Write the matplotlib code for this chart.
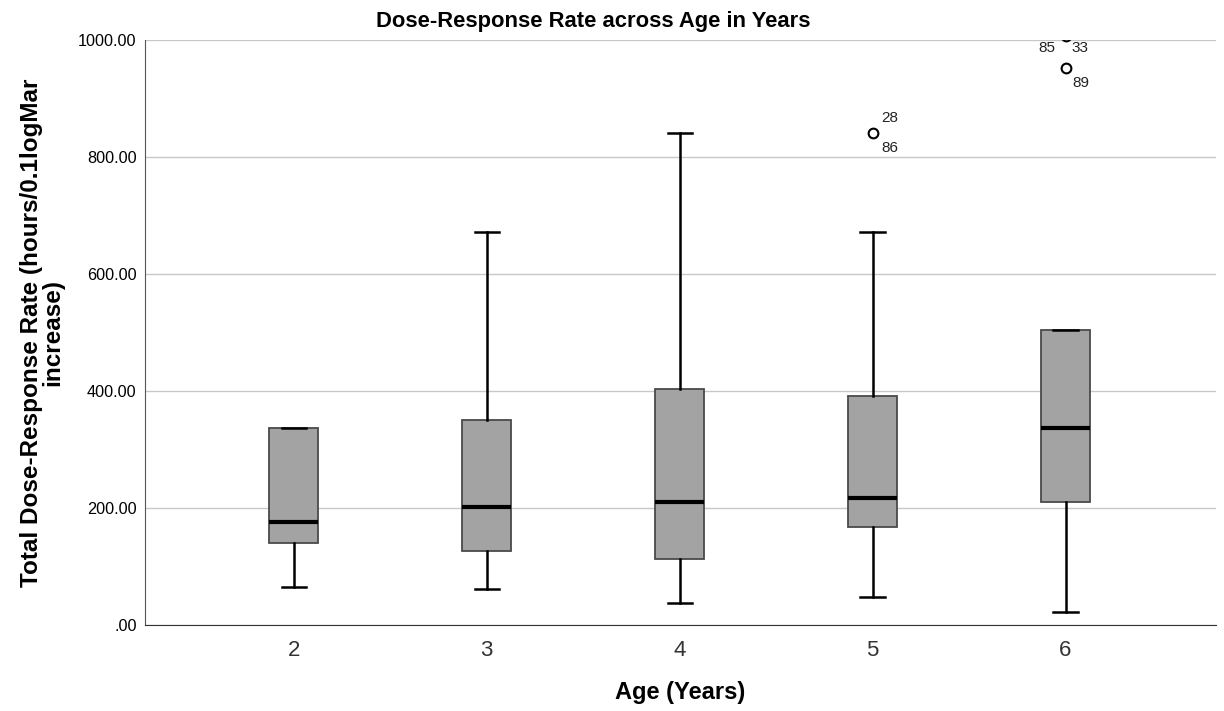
import matplotlib
matplotlib.use("Agg")
import matplotlib.pyplot as plt

plt.rcParams['font.family'] = ['Liberation Sans', 'DejaVu Sans']

ages = [2, 3, 4, 5, 6]
whislo = [65, 61, 38, 48, 22]
q1 = [140, 126, 113, 168, 210]
med = [176, 202, 210, 217, 337]
q3 = [337, 350, 403, 392, 504]
whishi = [337, 672, 841, 672, 504]
fliers = [[], [], [], [841], [1007, 952]]
flier_labels = [[], [], [], ["28", "86"], ["85", "33", "89"]]

stats = []
for i in range(len(ages)):
    stats.append(dict(med=med[i], q1=q1[i], q3=q3[i], whislo=whislo[i],
                      whishi=whishi[i], fliers=fliers[i]))

fig = plt.figure(figsize=(12.24, 7.11), dpi=100)
ax = fig.add_axes([0.1185, 0.121, 0.875, 0.8227])

ax.bxp(stats, positions=ages, widths=0.254, patch_artist=True,
       boxprops=dict(facecolor="#a3a3a3", edgecolor="#4a4a4a", linewidth=1.3),
       medianprops=dict(color="black", linewidth=3),
       whiskerprops=dict(color="black", linewidth=1.8),
       capprops=dict(color="black", linewidth=1.8),
       capwidths=0.125,
       flierprops=dict(marker="o", markerfacecolor="white", markeredgecolor="black",
                       markersize=7, markeredgewidth=1.5),
       zorder=3)

label_offsets = {
    "28": ((6, 11), "left"), "86": ((6, -11), "left"),
    "85": ((-7, -9), "right"), "33": ((4, -9), "left"), "89": ((5, -11), "left"),
}
for i, labs in enumerate(flier_labels):
    if not labs:
        continue
    if ages[i] == 5:
        pts = [fliers[i][0], fliers[i][0]]
    else:
        pts = [fliers[i][0], fliers[i][0], fliers[i][1]]
    for txt, yv in zip(labs, pts):
        off, ha = label_offsets[txt]
        ax.annotate(txt, (ages[i], yv), xytext=off, textcoords="offset points",
                    ha=ha, va="center", fontsize=11, color="#222222",
                    annotation_clip=False)

ax.set_xlim(1.23, 6.78)
ax.set_ylim(0, 1000)
yt = [0, 200, 400, 600, 800, 1000]
ax.set_yticks(yt)
ax.set_yticklabels([".00", "200.00", "400.00", "600.00", "800.00", "1000.00"], fontsize=11.7)
ax.set_xticks(ages)
ax.set_xticklabels([str(a) for a in ages], fontsize=16, color="#333333")
ax.tick_params(axis="both", length=0)
ax.tick_params(axis="x", pad=11)
ax.tick_params(axis="y", pad=6)
ax.yaxis.grid(True, color="#c8c8c8", linewidth=1.0, zorder=0)
ax.set_axisbelow(True)
for s in ["top", "right"]:
    ax.spines[s].set_visible(False)
ax.spines["left"].set_color("#555555")
ax.spines["bottom"].set_color("#333333")

fig.text(593 / 1224, 1 - 22 / 711, "Dose-Response Rate across Age in Years",
         fontsize=15.8, fontweight="bold", ha="center", va="center")
ax.set_xlabel("Age (Years)", fontsize=17, fontweight="bold", labelpad=14)
ax.set_ylabel("Total Dose-Response Rate (hours/0.1logMar\nincrease)", fontsize=17.5,
              fontweight="bold", labelpad=10, linespacing=0.9)

fig.savefig("out.png", dpi=100)
